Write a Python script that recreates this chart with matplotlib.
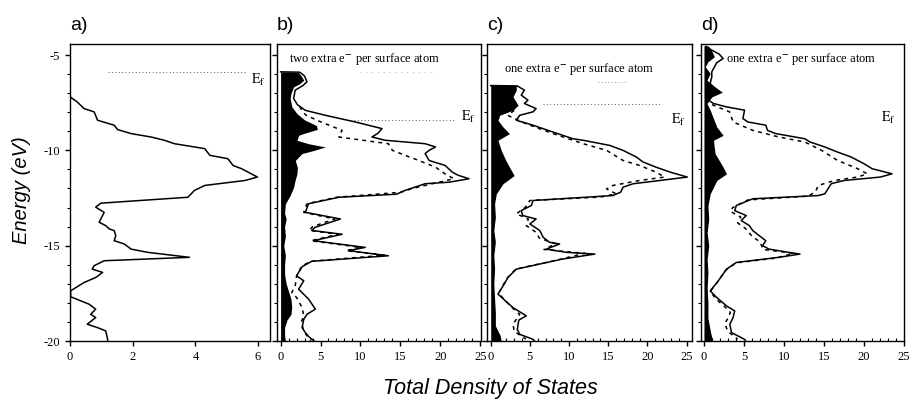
import numpy as np
import matplotlib.pyplot as plt
from matplotlib.ticker import MultipleLocator

plt.rcParams['axes.unicode_minus'] = False
plt.rcParams['mathtext.fontset'] = 'stix'
SERIF = 'Liberation Serif'
SANS = 'Liberation Sans'

# ---- data (energy in eV, DOS in states) ----
# a) bulk
a_e = [-4.42, -7.19, -7.46, -7.81, -7.98, -8.42, -8.68, -8.91, -9.12, -9.3, -9.47, -9.65,
       -9.91, -10.26, -10.44, -10.79, -10.96, -11.4, -11.58, -11.84, -12.1, -12.46, -12.77,
       -12.98, -13.25, -13.77, -13.95, -14.12, -14.21, -14.47, -14.74, -14.91, -15.18, -15.35,
       -15.61, -15.79, -16.05, -16.23, -16.4, -16.67, -16.93, -17.37, -17.68, -17.89, -18.07,
       -18.33, -18.6, -18.77, -19.12, -19.3, -19.47, -19.91, -20.0]
a_dos = [0.0, 0.0, 0.23, 0.45, 0.77, 0.88, 1.41, 1.52, 1.95, 2.59, 3.01, 3.33,
         4.3, 4.46, 5.04, 5.2, 5.47, 5.98, 5.58, 4.3, 3.97, 3.76, 0.98,
         0.82, 1.09, 0.93, 1.14, 1.25, 1.41, 1.46, 1.41, 1.73, 1.95, 2.48,
         3.81, 1.09, 0.77, 0.71, 1.04, 0.82, 0.45, 0.02, 0.02, 0.34, 0.61,
         0.82, 0.66, 0.82, 0.55, 0.88, 1.14, 1.2, 1.2]

# b) two extra e- per surface atom
b_e = [-5.88, -5.9, -6.1, -6.4, -6.6, -6.84, -7.28, -7.6, -7.9, -8.16, -8.51, -8.86, -9.1,
       -9.3, -9.47, -9.65, -9.82, -10.0, -10.17, -10.53, -10.79, -11.14, -11.3, -11.49, -11.67,
       -11.75, -12.1, -12.3, -12.46, -12.8, -13.25, -13.6, -14.04, -14.2, -14.4, -14.74, -15.09,
       -15.26, -15.53, -15.82, -16.1, -16.58, -16.84, -17.28, -17.8, -18.33, -18.6, -18.86,
       -19.3, -19.56, -19.8, -20.0]
b_dos = [0.0, 2.4, 3.0, 3.3, 2.8, 1.83, 1.63, 2.1, 3.1, 5.6, 9.36, 12.7, 12.2,
         11.45, 13.1, 18.1, 19.4, 18.6, 18.1, 18.6, 20.6, 21.5, 22.2, 23.6, 21.1,
         18.1, 15.6, 14.5, 7.3, 3.5, 3.1, 7.5, 4.3, 3.9, 7.7, 4.1, 10.6,
         8.5, 13.5, 3.9, 2.7, 2.0, 2.9, 2.25, 3.5, 4.35, 3.3, 2.9,
         2.7, 3.1, 3.6, 4.2]
b_dash_e = [-7.7, -8.0, -8.16, -8.5, -8.95, -9.3, -9.65, -10.0, -10.26, -10.53, -10.88, -11.23,
            -11.49, -11.75, -12.0, -12.2, -12.46, -12.8, -13.25, -13.6, -14.0, -14.2, -14.4,
            -14.74, -15.09, -15.26, -15.5, -15.82, -16.1, -16.6, -17.1, -17.46, -17.72, -18.25,
            -18.68, -19.0, -19.5, -20.0]
b_dash_dos = [2.4, 2.8, 3.2, 5.0, 7.7, 7.3, 13.5, 14.0, 15.6, 17.3, 19.4, 20.6,
              21.7, 19.0, 16.5, 15.0, 7.0, 3.3, 2.9, 6.8, 4.0, 3.6, 7.2,
              3.8, 10.0, 8.2, 13.0, 3.7, 2.6, 2.0, 1.83, 1.4, 2.0, 2.7,
              2.9, 2.6, 2.9, 3.8]
b_fill_e = [-5.88, -5.9, -6.1, -6.32, -6.5, -6.67, -7.0, -7.28, -7.72, -8.07, -8.4, -8.7, -8.9,
            -9.1, -9.21, -9.47, -9.65, -9.82, -10.0, -10.17, -10.53, -10.9, -11.23, -11.6,
            -11.93, -12.37, -12.8, -13.3, -13.6, -14.0, -14.5, -15.0, -15.5, -16.0, -16.5,
            -17.0, -17.4, -17.8, -18.2, -18.6, -18.9, -19.3, -19.7, -20.0]
b_fill_dos = [0.0, 2.2, 2.6, 2.9, 2.4, 1.63, 1.3, 1.2, 1.42, 2.05, 3.0, 4.5, 4.6,
              3.0, 2.26, 2.05, 3.5, 5.6, 4.2, 2.67, 1.84, 2.1, 2.05, 1.8,
              1.63, 1.2, 0.6, 0.5, 0.7, 0.5, 0.6, 0.4, 0.6, 0.5, 0.5,
              0.7, 1.0, 1.3, 1.4, 1.3, 0.8, 0.5, 0.5, 0.6]

# c) one extra e- per surface atom
c_e = [-6.6, -6.62, -6.84, -7.1, -7.37, -7.54, -7.81, -7.98, -8.16, -8.42, -8.68, -9.04, -9.39,
       -9.47, -9.74, -10.0, -10.35, -10.61, -10.88, -11.14, -11.4, -11.58, -11.75, -11.93,
       -12.19, -12.37, -12.63, -12.89, -13.16, -13.42, -13.6, -13.86, -14.2, -14.56, -14.82,
       -14.91, -15.18, -15.35, -15.44, -15.7, -16.23, -16.67, -17.1, -17.54, -17.9, -18.25,
       -18.68, -18.9, -19.12, -19.4, -19.65, -19.91, -20.0]
c_dos = [0.0, 3.4, 4.3, 3.9, 4.76, 4.3, 5.8, 5.4, 3.7, 3.27, 5.4, 7.96, 10.5,
         11.8, 15.2, 16.9, 18.6, 19.45, 21.1, 22.9, 25.1, 21.6, 18.2, 16.9,
         16.6, 15.6, 5.4, 5.2, 3.9, 4.1, 5.8, 5.0, 6.26, 6.7, 7.5,
         8.8, 7.1, 9.66, 13.3, 9.2, 3.27, 2.2, 1.6, 0.93, 1.9, 2.85,
         4.55, 3.6, 3.5, 3.4, 3.7, 5.4, 5.6]
c_dash_e = [-7.9, -8.16, -8.25, -8.6, -9.12, -9.65, -10.0, -10.53, -10.79, -11.14, -11.4, -11.58,
            -11.84, -12.02, -12.28, -12.45, -12.63, -13.0, -13.33, -13.6, -13.95, -14.3, -14.6,
            -14.9, -15.2, -15.4, -15.7, -16.23, -16.7, -17.5, -18.2, -18.6, -19.12, -19.5, -19.9]
c_dash_dos = [3.0, 2.2, 2.6, 4.5, 7.96, 11.8, 14.8, 16.9, 19.0, 21.1, 22.2, 19.0,
              15.6, 14.8, 16.0, 14.0, 5.0, 4.4, 3.27, 4.8, 4.55, 5.8, 6.2,
              8.3, 6.8, 12.0, 9.0, 3.2, 2.1, 1.0, 2.6, 3.7, 2.85, 3.0, 4.5]
c_fill_e = [-6.58, -6.6, -6.84, -7.19, -7.63, -7.89, -8.16, -8.42, -8.77, -9.12, -9.47, -10.0,
            -10.5, -10.88, -11.32, -11.75, -12.28, -12.8, -13.5, -14.2, -14.8, -15.5, -16.2,
            -17.0, -17.8, -18.5, -19.2, -19.7, -20.0]
c_fill_dos = [0.0, 3.27, 3.27, 2.85, 3.5, 2.85, 1.15, 0.93, 1.57, 2.4, 0.93, 1.35,
              1.9, 2.4, 3.0, 1.57, 0.72, 0.5, 0.6, 0.4, 0.6, 0.4, 0.5,
              0.4, 0.5, 0.6, 0.6, 1.2, 1.35]

# d) one extra e- per surface atom
d_e = [-4.55, -4.7, -4.95, -5.18, -5.4, -5.88, -6.14, -6.49, -6.8, -7.02, -7.37, -7.54, -7.72,
       -7.89, -8.33, -8.51, -8.68, -8.95, -9.12, -9.39, -9.56, -9.82, -10.09, -10.35, -10.7,
       -10.96, -11.23, -11.4, -11.58, -11.75, -12.02, -12.28, -12.37, -12.54, -12.89, -13.16,
       -13.42, -13.68, -13.95, -14.21, -14.74, -15.0, -15.18, -15.35, -15.44, -15.61, -15.88,
       -16.23, -16.84, -17.37, -17.72, -18.16, -18.42, -18.77, -19.12, -19.56, -19.91, -20.0]
d_dos = [0.3, 0.8, 1.9, 2.4, 1.6, 0.98, 0.98, 0.78, 1.2, 0.98, 0.57, 1.19, 2.82,
         5.07, 4.87, 5.48, 7.73, 7.94, 8.96, 12.6, 13.25, 15.1, 16.7, 18.4, 20.0,
         21.0, 23.5, 22.05, 17.5, 15.9, 15.5, 15.1, 14.3, 6.1, 4.05, 3.84,
         5.28, 4.66, 5.68, 6.1, 7.73, 7.33, 8.14, 10.6, 12.0, 9.36, 4.05,
         2.82, 1.8, 0.78, 1.6, 2.82, 3.84, 3.64, 3.23, 3.44, 5.07, 5.2]
d_dash_e = [-7.6, -7.98, -8.51, -8.95, -9.3, -9.56, -10.0, -10.53, -10.96, -11.23, -11.4, -11.58,
            -11.84, -12.19, -12.4, -12.6, -13.0, -13.2, -13.5, -13.8, -14.1, -14.5, -14.8,
            -15.2, -15.4, -15.65, -15.9, -16.3, -16.9, -17.4, -17.8, -18.2, -18.5, -18.8,
            -19.1, -19.5, -19.9]
d_dash_dos = [1.0, 3.2, 3.64, 6.1, 9.36, 12.6, 14.7, 16.7, 19.2, 20.4, 19.2, 16.3,
              14.3, 13.9, 13.0, 5.5, 3.6, 3.3, 4.6, 4.2, 5.2, 6.0, 7.0,
              7.4, 11.2, 9.0, 4.0, 2.7, 1.7, 0.8, 1.5, 2.6, 3.3, 3.0,
              2.6, 3.0, 4.2]
d_fill_e = [-4.5, -4.55, -4.8, -5.09, -5.35, -5.61, -5.96, -6.32, -6.67, -6.95, -7.19, -7.54,
            -7.89, -8.33, -8.77, -9.21, -9.47, -10.17, -10.88, -11.23, -11.58, -12.28, -12.9,
            -13.6, -14.3, -15.0, -15.7, -16.4, -17.2, -18.0, -18.8, -19.5, -20.0]
d_fill_dos = [0.0, 0.6, 1.0, 1.3, 0.5, 0.16, 0.78, 0.37, 1.39, 2.3, 1.0, 0.37,
              0.78, 1.19, 1.6, 2.4, 1.19, 1.39, 2.4, 2.82, 1.6, 0.78, 0.5,
              0.6, 0.4, 0.6, 0.4, 0.5, 0.4, 0.5, 0.5, 0.8, 1.1]

# Fermi levels: (energy, from, to) in each panel
a_ef = (-5.9, 1.2, 5.6)
b_ef = (-8.42, 9.2, 21.9)
c_ef = (-7.58, 6.7, 21.6)

fig = plt.figure(figsize=(9.14, 4.05), dpi=100)
bottom, height = 1 - 341 / 405, 297 / 405
ax_a = fig.add_axes([70 / 914, bottom, 200 / 914, height])
ax_b = fig.add_axes([277 / 914, bottom, 204 / 914, height])
ax_c = fig.add_axes([487 / 914, bottom, 205 / 914, height])
ax_d = fig.add_axes([701 / 914, bottom, 203 / 914, height])

lw = 1.1
dash = (0, (2.5, 2.8))

# a
ax_a.plot(a_dos, a_e, color='black', lw=lw)
ax_a.set_xlim(0, 6.38)
ax_a.xaxis.set_major_locator(MultipleLocator(2))

# b
ax_b.fill_betweenx(b_fill_e, 0, b_fill_dos, color='black', lw=0)
ax_b.plot(b_dos, b_e, color='black', lw=lw)
ax_b.plot(b_dash_dos, b_dash_e, color='black', lw=lw, ls=dash)
ax_b.set_xlim(-0.45, 25.1)

# c
ax_c.fill_betweenx(c_fill_e, 0, c_fill_dos, color='black', lw=0)
ax_c.plot(c_dos, c_e, color='black', lw=lw)
ax_c.plot(c_dash_dos, c_dash_e, color='black', lw=lw, ls=dash)
ax_c.set_xlim(-0.47, 25.7)

# d
ax_d.fill_betweenx(d_fill_e, 0, d_fill_dos, color='black', lw=0)
ax_d.plot(d_dos, d_e, color='black', lw=lw)
ax_d.plot(d_dash_dos, d_dash_e, color='black', lw=lw, ls=dash)
ax_d.set_xlim(-0.37, 25.0)

# Fermi level lines and labels
for ax, ef in [(ax_a, a_ef), (ax_b, b_ef), (ax_c, c_ef)]:
    ax.plot([ef[1], ef[2]], [ef[0], ef[0]], color='0.35', lw=0.7, ls=(0, (1, 2.5)))
ax_b.plot([10, 19.5], [-5.88, -5.88], color='0.6', lw=0.6, ls=(0, (1, 6)))
ax_c.plot([13.7, 17.3], [-6.4, -6.4], color='0.5', lw=0.6, ls=(0, (1, 3)))

ef_txt = r'$\mathrm{E_f}$'
ax_a.text(6.0, -6.3, ef_txt, fontsize=10, ha='center', va='center')
ax_b.text(23.5, -8.25, ef_txt, fontsize=10, ha='center', va='center')
ax_c.text(24.0, -8.4, ef_txt, fontsize=10, ha='center', va='center')
ax_d.text(23.0, -8.3, ef_txt, fontsize=10, ha='center', va='center')

ax_b.text(1.1, -5.2, r'two extra e$^{\mathbf{-}}$ per surface atom', family=SERIF,
          fontsize=9, va='center')
ax_c.text(1.7, -5.72, r'one extra e$^{\mathbf{-}}$ per surface atom', family=SERIF,
          fontsize=9, va='center')
ax_d.text(2.8, -5.2, r'one extra e$^{\mathbf{-}}$ per surface atom', family=SERIF,
          fontsize=9, va='center')

for ax in [ax_a, ax_b, ax_c, ax_d]:
    ax.set_ylim(-20, -4.42)
    ax.yaxis.set_major_locator(MultipleLocator(5))
    ax.yaxis.set_minor_locator(MultipleLocator(1))
    ax.tick_params(axis='y', which='major', direction='out', length=3.5, width=1)
    ax.tick_params(axis='y', which='minor', direction='out', length=2, width=0.8)
    ax.tick_params(axis='x', which='major', direction='out', length=3.5, width=1)
    ax.tick_params(axis='x', which='minor', direction='in', length=2, width=0.8)
    for s in ax.spines.values():
        s.set_linewidth(1.0)
    for lab in ax.get_xticklabels() + ax.get_yticklabels():
        lab.set_family(SERIF)
        lab.set_fontsize(9)
    if ax is not ax_a:
        ax.xaxis.set_major_locator(MultipleLocator(5))
        ax.xaxis.set_minor_locator(MultipleLocator(1))
        ax.set_yticklabels([])

for ax, lab in [(ax_a, 'a)'), (ax_b, 'b)'), (ax_c, 'c)'), (ax_d, 'd)')]:
    x0 = ax.get_position().x0
    fig.text(x0, 0.938, lab, family=SANS, fontsize=14, va='center', ha='left')

fig.text(0.024, 0.53, 'Energy (eV)', family=SANS, style='italic', fontsize=14.5,
         rotation=90, ha='center', va='center')
fig.text(0.536, 0.04, 'Total Density of States', family=SANS, style='italic',
         fontsize=15.5, ha='center', va='center')

fig.savefig('out.png', dpi=100)
